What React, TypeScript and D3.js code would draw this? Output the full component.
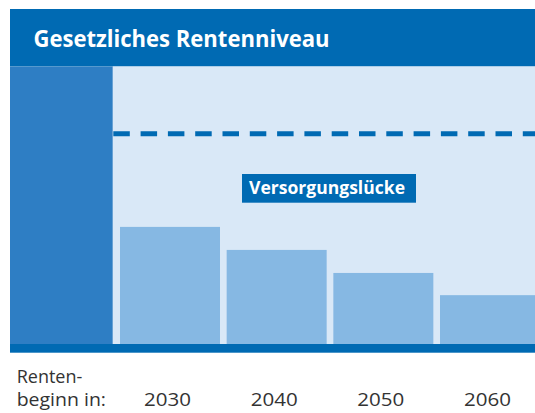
import React from "react";
import * as d3 from "d3";

const title = "Gesetzliches Rentenniveau";
const gapLabel = "Versorgungslücke";
const axisLabelLines = ["Renten-", "beginn in:"];
const years = ["2030", "2040", "2050", "2060"];
const futureLevels = [42.2, 33.9, 25.6, 17.6];
const currentLevel = 100;
const targetLevel = 75.8;

const W = 535;
const H = 413;

export default function App() {
  const plotTop = 66.5;
  const plotBottom = 344;
  const y = d3.scaleLinear().domain([0, 100]).range([plotBottom, plotTop]);
  const x = d3
    .scaleBand<string>()
    .domain(years)
    .range([116.67, 543.33])
    .paddingInner(0.0625)
    .paddingOuter(0.03125);

  const dark = "#006AB3";
  const mid = "#2E7EC4";
  const light = "#D9E8F7";
  const barFill = "#86B8E3";
  const textCol = "#333333";
  const font = "'Open Sans', 'Noto Sans', sans-serif";

  return (
    <svg
      width={W}
      height={H}
      style={{ position: "absolute", left: 0, top: 0, background: "#fff" }}
    >
      {/* title band */}
      <rect x={10} y={9} width={W - 10} height={plotTop - 9} fill={dark} />
      <text
        x={33.5}
        y={46.7}
        fill="#fff"
        fontFamily={font}
        fontWeight={700}
        fontSize={24}
        textLength={296}
        lengthAdjust="spacingAndGlyphs"
      >
        {title}
      </text>

      {/* plot background */}
      <rect x={112.7} y={plotTop} width={W - 112.7} height={plotBottom - plotTop} fill={light} />

      {/* current level bar */}
      <rect
        x={10}
        y={y(currentLevel)}
        width={102.7}
        height={plotBottom - y(currentLevel)}
        fill={mid}
      />

      {/* future bars */}
      {years.map((yr, i) => (
        <rect
          key={yr}
          x={x(yr)}
          y={y(futureLevels[i])}
          width={x.bandwidth()}
          height={plotBottom - y(futureLevels[i])}
          fill={barFill}
        />
      ))}

      {/* dashed target line */}
      <line
        x1={113.3}
        x2={W}
        y1={y(targetLevel)}
        y2={y(targetLevel)}
        stroke={dark}
        strokeWidth={5}
        strokeDasharray="16.5 10.8"
      />

      {/* gap label */}
      <rect x={242} y={174} width={174} height={28.7} fill={dark} />
      <text
        x={249}
        y={193.8}
        fill="#fff"
        fontFamily={font}
        fontWeight={700}
        fontSize={17}
        textLength={156}
        lengthAdjust="spacingAndGlyphs"
      >
        {gapLabel}
      </text>

      {/* base band */}
      <rect x={10} y={plotBottom} width={W - 10} height={8.7} fill={dark} />

      {/* axis labels */}
      {axisLabelLines.map((l, i) => (
        <text
          key={l}
          x={16.7}
          y={382.7 + i * 23.5}
          fill={textCol}
          fontFamily={font}
          fontSize={19}
          textLength={i === 0 ? 65.6 : 89.3}
          lengthAdjust="spacingAndGlyphs"
        >
          {l}
        </text>
      ))}
      {years.map((yr) => (
        <text
          key={yr}
          x={(x(yr) as number) + x.bandwidth() / 2 - 2.5}
          y={406.2}
          textAnchor="middle"
          fill={textCol}
          fontFamily={font}
          fontSize={19}
          textLength={47}
          lengthAdjust="spacingAndGlyphs"
        >
          {yr}
        </text>
      ))}
    </svg>
  );
}
